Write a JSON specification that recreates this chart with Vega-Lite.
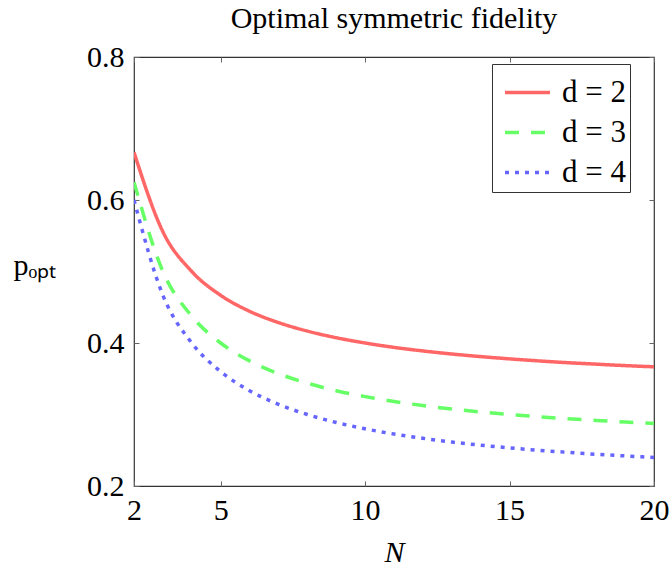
{
  "$schema": "https://vega.github.io/schema/vega-lite/v6.json",
  "autosize": "none",
  "width": 520,
  "height": 429,
  "padding": {"left": 134, "top": 57, "right": 16, "bottom": 83},
  "background": "white",
  "config": {
    "font": "Liberation Serif",
    "view": {"stroke": "#333", "strokeWidth": 1.2},
    "axis": {"grid": false, "domain": false, "labelFont": "Liberation Serif", "titleFont": "Liberation Serif", "labelFontSize": 30, "titleFontSize": 30, "labelColor": "black", "titleColor": "black", "titleFontWeight": "normal", "tickColor": "#666", "tickSize": -5, "tickWidth": 1}
  },
  "title": {"text": "Optimal symmetric fidelity", "font": "Liberation Serif", "fontSize": 30, "fontWeight": "normal", "color": "black", "anchor": "middle", "offset": 8},
  "data": {"values": [
    {"N": 2, "p": 0.6667, "s": "d = 2"}, {"N": 3, "p": 0.5556, "s": "d = 2"}, {"N": 4, "p": 0.5, "s": "d = 2"}, {"N": 5, "p": 0.4667, "s": "d = 2"}, {"N": 6, "p": 0.4444, "s": "d = 2"}, {"N": 7, "p": 0.4286, "s": "d = 2"}, {"N": 8, "p": 0.4167, "s": "d = 2"}, {"N": 9, "p": 0.4074, "s": "d = 2"}, {"N": 10, "p": 0.4, "s": "d = 2"}, {"N": 11, "p": 0.3939, "s": "d = 2"}, {"N": 12, "p": 0.3889, "s": "d = 2"}, {"N": 13, "p": 0.3846, "s": "d = 2"}, {"N": 14, "p": 0.381, "s": "d = 2"}, {"N": 15, "p": 0.3778, "s": "d = 2"}, {"N": 16, "p": 0.375, "s": "d = 2"}, {"N": 17, "p": 0.3725, "s": "d = 2"}, {"N": 18, "p": 0.3704, "s": "d = 2"}, {"N": 19, "p": 0.3684, "s": "d = 2"}, {"N": 20, "p": 0.3667, "s": "d = 2"},
    {"N": 2, "p": 0.625, "s": "d = 3"}, {"N": 3, "p": 0.5, "s": "d = 3"}, {"N": 4, "p": 0.4375, "s": "d = 3"}, {"N": 5, "p": 0.4, "s": "d = 3"}, {"N": 6, "p": 0.375, "s": "d = 3"}, {"N": 7, "p": 0.3571, "s": "d = 3"}, {"N": 8, "p": 0.3438, "s": "d = 3"}, {"N": 9, "p": 0.3333, "s": "d = 3"}, {"N": 10, "p": 0.325, "s": "d = 3"}, {"N": 11, "p": 0.3182, "s": "d = 3"}, {"N": 12, "p": 0.3125, "s": "d = 3"}, {"N": 13, "p": 0.3077, "s": "d = 3"}, {"N": 14, "p": 0.3036, "s": "d = 3"}, {"N": 15, "p": 0.3, "s": "d = 3"}, {"N": 16, "p": 0.2969, "s": "d = 3"}, {"N": 17, "p": 0.2941, "s": "d = 3"}, {"N": 18, "p": 0.2917, "s": "d = 3"}, {"N": 19, "p": 0.2895, "s": "d = 3"}, {"N": 20, "p": 0.2875, "s": "d = 3"},
    {"N": 2, "p": 0.6, "s": "d = 4"}, {"N": 3, "p": 0.4667, "s": "d = 4"}, {"N": 4, "p": 0.4, "s": "d = 4"}, {"N": 5, "p": 0.36, "s": "d = 4"}, {"N": 6, "p": 0.3333, "s": "d = 4"}, {"N": 7, "p": 0.3143, "s": "d = 4"}, {"N": 8, "p": 0.3, "s": "d = 4"}, {"N": 9, "p": 0.2889, "s": "d = 4"}, {"N": 10, "p": 0.28, "s": "d = 4"}, {"N": 11, "p": 0.2727, "s": "d = 4"}, {"N": 12, "p": 0.2667, "s": "d = 4"}, {"N": 13, "p": 0.2615, "s": "d = 4"}, {"N": 14, "p": 0.2571, "s": "d = 4"}, {"N": 15, "p": 0.2533, "s": "d = 4"}, {"N": 16, "p": 0.25, "s": "d = 4"}, {"N": 17, "p": 0.2471, "s": "d = 4"}, {"N": 18, "p": 0.2444, "s": "d = 4"}, {"N": 19, "p": 0.2421, "s": "d = 4"}, {"N": 20, "p": 0.24, "s": "d = 4"}
  ]},
  "resolve": {"axis": {"x": "independent", "y": "independent"}},
  "layer": [
    {
      "mark": {"type": "line", "strokeWidth": 3.5, "strokeCap": "butt", "interpolate": "monotone", "clip": true},
      "encoding": {
        "x": {"field": "N", "type": "quantitative", "scale": {"domain": [2, 20], "nice": false, "zero": false},
              "axis": {"values": [2, 5, 10, 15, 20], "title": "N", "titleFontStyle": "italic", "labelPadding": 14, "titlePadding": 12, "labelFlush": false}},
        "y": {"field": "p", "type": "quantitative", "scale": {"domain": [0.2, 0.8], "nice": false, "zero": false},
              "axis": {"values": [0.2, 0.4, 0.6, 0.8], "format": ".1f", "labelPadding": 15, "title": "pₒₚₜ", "titleAngle": 0, "titleAlign": "left", "titleBaseline": "middle", "titleX": -121, "titleY": 208, "labelFlush": false}},
        "color": {"field": "s", "type": "nominal", "scale": {"domain": ["d = 2", "d = 3", "d = 4"], "range": ["#ff6666", "#66ff66", "#6666ff"]},
                  "legend": {"title": null, "orient": "none", "legendX": 358, "legendY": 7, "strokeColor": "#333", "fillColor": "white", "padding": 4, "labelFont": "Liberation Serif", "labelFontSize": 31, "labelColor": "black", "symbolType": "stroke", "symbolSize": 2025, "symbolStrokeWidth": 3.5, "symbolOffset": 7, "rowPadding": -7, "labelOffset": 10, "cornerRadius": 0}},
        "strokeDash": {"field": "s", "type": "nominal", "scale": {"domain": ["d = 2", "d = 3", "d = 4"], "range": [[1, 0], [14, 12], [4, 6]]}, "legend": null}
      }
    },
    {
      "mark": {"type": "line", "strokeOpacity": 0},
      "encoding": {
        "x": {"field": "N", "type": "quantitative", "axis": {"orient": "top", "values": [2, 5, 10, 15, 20], "labels": false, "title": null}},
        "y": {"field": "p", "type": "quantitative", "axis": {"orient": "right", "values": [0.2, 0.4, 0.6, 0.8], "labels": false, "title": null}},
        "detail": {"field": "s"}
      }
    }
  ]
}
